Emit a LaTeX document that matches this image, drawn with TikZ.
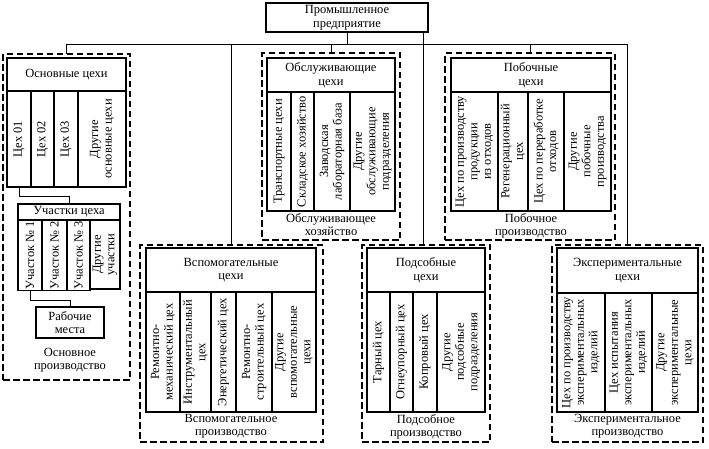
\documentclass[tikz,border=0pt]{standalone}
\usepackage{fontspec}
\setmainfont{Liberation Serif}
\usetikzlibrary{positioning}

\begin{document}
\begin{tikzpicture}[x=1pt, y=-1pt, font=\fontsize{12.5}{13.5}\selectfont,
  box/.style={draw, line width=1.3pt, align=center, inner sep=1pt, outer sep=0pt, anchor=north west},
  col/.style={draw, line width=1.3pt, align=center, inner sep=1pt, outer sep=0pt, rotate=90, anchor=north east},
  frame/.style={draw, line width=1.2pt, dash pattern=on 6.5pt off 3.5pt, outer sep=0pt, anchor=north west},
  foot/.style={align=center, inner sep=2pt, anchor=north},
  link/.style={line width=1pt}]
\useasboundingbox (0,0) rectangle (709,448);

% dashed frames
\node[frame, minimum width=127pt, minimum height=326pt] (osnF) at (3,54) {};
\node[frame, minimum width=138pt, minimum height=187pt] (obsF) at (262,53) {};
\node[frame, minimum width=170pt, minimum height=187pt] (pobF) at (445,53) {};
\node[frame, minimum width=183pt, minimum height=197pt] (vspF) at (140,245) {};
\node[frame, minimum width=128pt, minimum height=197pt] (podF) at (362,245) {};
\node[frame, minimum width=151pt, minimum height=197pt] (eksF) at (552,245) {};

\node[box, minimum width=162pt, minimum height=29pt] (pred) at (266,3) {Промышленное\\предприятие};

% Основные цехи
\node[box, minimum width=119pt, minimum height=33pt] (osn) at (7,58) {Основные цехи};
\node[col, minimum width=96pt, minimum height=24pt] (osn1) at (osn.south west) {Цех 01};
\node[col, minimum width=96pt, minimum height=23pt] (osn2) at (osn1.south east) {Цех 02};
\node[col, minimum width=96pt, minimum height=24pt] (osn3) at (osn2.south east) {Цех 03};
\node[col, minimum width=96pt, minimum height=48pt] (osn4) at (osn3.south east) {Другие\\основные цехи};

\node[box, minimum width=102pt, minimum height=16pt] (uch) at (18,204) {Участки цеха};
\node[col, minimum width=69pt, minimum height=24pt] (uch1) at (uch.south west) {Участок №~1};
\node[col, minimum width=69pt, minimum height=25pt] (uch2) at (uch1.south east) {Участок №~2};
\node[col, minimum width=69pt, minimum height=23pt] (uch3) at (uch2.south east) {Участок №~3};
\node[col, minimum width=69pt, minimum height=30pt] (uch4) at (uch3.south east) {Другие\\участки};

\node[box, minimum width=68pt, minimum height=31pt] (rab) at (36,307) {Рабочие\\места};
\node[foot, below=8pt of rab] (osnT) {Основное\\производство};

% Обслуживающие цехи
\node[box, minimum width=128pt, minimum height=34pt] (obs) at (267,58) {Обслуживающие\\цехи};
\node[col, minimum width=119pt, minimum height=24pt] (obs1) at (obs.south west) {Транспортные цехи};
\node[col, minimum width=119pt, minimum height=23pt] (obs2) at (obs1.south east) {Складское хозяйство};
\node[col, minimum width=119pt, minimum height=36pt] (obs3) at (obs2.south east) {Заводская\\лабораторная база};
\node[col, minimum width=119pt, minimum height=45pt] (obs4) at (obs3.south east) {Другие\\обслуживающие\\подразделения};
\node[foot] (obsT) at (obs.south |- obs4.west) {Обслуживающее\\хозяйство};

% Побочные цехи
\node[box, minimum width=160pt, minimum height=34pt] (pob) at (451,58) {Побочные\\цехи};
\node[col, minimum width=119pt, minimum height=47pt] (pob1) at (pob.south west) {Цех по производству\\продукции\\из отходов};
\node[col, minimum width=119pt, minimum height=30pt] (pob2) at (pob1.south east) {Регенерационный\\цех};
\node[col, minimum width=119pt, minimum height=36pt] (pob3) at (pob2.south east) {Цех по переработке\\отходов};
\node[col, minimum width=119pt, minimum height=47pt] (pob4) at (pob3.south east) {Другие\\побочные\\производства};
\node[foot] (pobT) at (pob.south |- pob4.west) {Побочное\\производство};

% Вспомогательные цехи
\node[box, minimum width=170pt, minimum height=44pt] (vsp) at (146,248) {Вспомогательные\\цехи};
\node[col, minimum width=120pt, minimum height=34pt] (vsp1) at (vsp.south west) {Ремонтно-\\механический цех};
\node[col, minimum width=120pt, minimum height=31pt] (vsp2) at (vsp1.south east) {Инструментальный\\цех};
\node[col, minimum width=120pt, minimum height=25pt] (vsp3) at (vsp2.south east) {Энергетический цех};
\node[col, minimum width=120pt, minimum height=36pt] (vsp4) at (vsp3.south east) {Ремонтно-\\строительный цех};
\node[col, minimum width=120pt, minimum height=44pt] (vsp5) at (vsp4.south east) {Другие\\вспомогательные\\цехи};
\node[foot] (vspT) at (vsp.south |- vsp5.west) {Вспомогательное\\производство};

% Подсобные цехи
\node[box, minimum width=118pt, minimum height=44pt] (pod) at (367,248) {Подсобные\\цехи};
\node[col, minimum width=120pt, minimum height=23pt] (pod1) at (pod.south west) {Тарный цех};
\node[col, minimum width=120pt, minimum height=23pt] (pod2) at (pod1.south east) {Огнеупорный цех};
\node[col, minimum width=120pt, minimum height=24pt] (pod3) at (pod2.south east) {Копровый цех};
\node[col, minimum width=120pt, minimum height=48pt] (pod4) at (pod3.south east) {Другие\\подсобные\\подразделения};
\node[foot] (podT) at (pod.south |- pod4.west) {Подсобное\\производство};

% Экспериментальные цехи
\node[box, minimum width=141pt, minimum height=45pt] (eks) at (557,248) {Экспериментальные\\цехи};
\node[col, minimum width=119pt, minimum height=48pt] (eks1) at (eks.south west) {Цех по производству\\экспериментальных\\изделий};
\node[col, minimum width=119pt, minimum height=47pt] (eks2) at (eks1.south east) {Цех испытания\\экспериментальных\\изделий};
\node[col, minimum width=119pt, minimum height=46pt] (eks3) at (eks2.south east) {Другие\\экспериментальные\\цехи};
\node[foot] (eksT) at (eks.south |- eks3.west) {Экспериментальное\\производство};

% connections
\coordinate (bus) at (0,44);
\coordinate (predR) at ([xshift=-5pt]pred.south east);
\draw[link] (pred.south) -- (pred.south |- bus);
\draw[link] (osnF.north) -- (osnF.north |- bus) -| (eksF.north);
\draw[link] (obsF.north) -- (obsF.north |- bus);
\draw[link] (pobF.north) -- (pobF.north |- bus);
\draw[link] (vspF.north) -- (vspF.north |- bus);
\draw[link] (predR) -- (predR |- podF.north);
\draw[link] (osn1.west) -- ++(0,9) -| (uch.north);
\draw[link] (uch1.west) -- ++(0,10) -| (rab.north);

\end{tikzpicture}
\end{document}
